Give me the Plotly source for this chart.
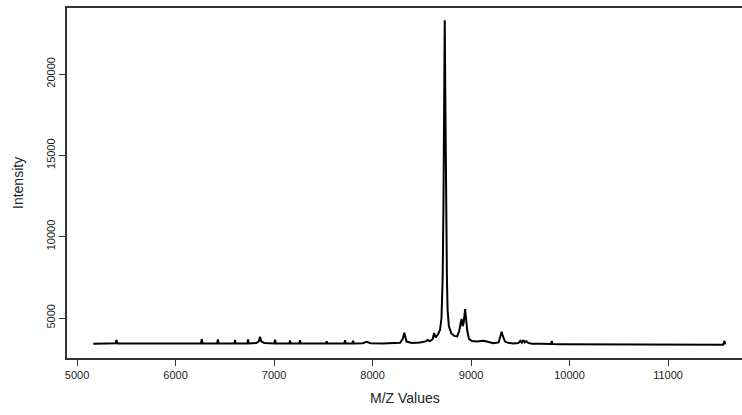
import plotly.graph_objects as go

mz = [5165, 5230, 5300, 5390, 5400, 5410, 5500, 5600, 5700, 5800, 5900, 6000, 6100, 6200,
      6258, 6266, 6274, 6350, 6423, 6430, 6437, 6520, 6597, 6604, 6611, 6680, 6729, 6736, 6743,
      6820, 6845, 6858, 6870, 6900, 6950, 7003, 7010, 7017, 7100, 7155, 7162, 7169, 7257, 7264,
      7271, 7350, 7450, 7528, 7535, 7542, 7620, 7714, 7721, 7728, 7795, 7802, 7809, 7900, 7941,
      7980, 8100, 8200, 8280, 8305, 8315, 8323, 8331, 8345, 8400, 8480, 8540, 8560, 8580, 8610,
      8625, 8640, 8665, 8685, 8700, 8712, 8720, 8727, 8733, 8739, 8745, 8750, 8755, 8762, 8775,
      8800, 8830, 8860, 8880, 8895, 8905, 8915, 8925, 8940, 8952, 8962, 8980, 9010, 9060, 9100,
      9122, 9160, 9225, 9280, 9300, 9311, 9322, 9345, 9376, 9430, 9480, 9500, 9515, 9530, 9545,
      9560, 9580, 9620, 9700, 9813, 9820, 9827, 9900, 10000, 10200, 10400, 10600, 10800, 11000,
      11200, 11400, 11560, 11573, 11580]
intensity = [3420, 3440, 3430, 3440, 3640, 3440, 3430, 3440, 3430, 3440, 3430, 3440, 3430, 3440,
             3440, 3690, 3440, 3430, 3440, 3690, 3440, 3440, 3440, 3650, 3440, 3440, 3440, 3680, 3440,
             3460, 3560, 3850, 3560, 3470, 3450, 3440, 3660, 3450, 3440, 3440, 3620, 3440, 3440, 3640,
             3440, 3430, 3440, 3440, 3560, 3440, 3430, 3440, 3640, 3440, 3440, 3600, 3440, 3450, 3540,
             3450, 3440, 3450, 3480, 3700, 3980, 4100, 3900, 3550, 3470, 3490, 3560, 3650, 3570, 3700,
             4080, 3800, 4000, 4260, 5000, 7500, 12000, 18000, 23300, 18500, 11000, 8000, 7500, 5500, 4500,
             4050, 3900, 3870, 4200, 4700, 4940, 4500, 4700, 5550, 4900, 4200, 3700, 3580, 3560, 3600,
             3600, 3550, 3450, 3500, 3850, 4160, 3900, 3550, 3480, 3440, 3460, 3600, 3480, 3650, 3500,
             3580, 3470, 3420, 3410, 3400, 3590, 3400, 3390, 3390, 3380, 3380, 3370, 3370, 3360,
             3360, 3360, 3360, 3590, 3380]

x_ticks = [5000, 6000, 7000, 8000, 9000, 10000, 11000]
y_ticks = [5000, 10000, 15000, 20000]

fig = go.Figure()
fig.add_trace(go.Scatter(x=mz, y=intensity, mode="lines",
                         line=dict(color="black", width=2), showlegend=False,
                         hoverinfo="skip"))

axis_color = "#333333"
tick_font = dict(family="Liberation Sans, Arial, sans-serif", size=11, color="#222222")

fig.update_layout(
    width=742, height=415,
    margin=dict(l=67, r=0, t=8, b=57),
    paper_bgcolor="white", plot_bgcolor="white",
    xaxis=dict(range=[4898, 11751], tickvals=x_ticks, ticktext=[str(v) for v in x_ticks],
               showline=True, linecolor=axis_color, linewidth=1.5, mirror=True,
               ticks="outside", ticklen=6, tickcolor=axis_color, tickwidth=1,
               showgrid=False, zeroline=False, tickfont=tick_font),
    yaxis=dict(range=[2541, 24057], tickvals=y_ticks, ticktext=[str(v) for v in y_ticks],
               showline=True, linecolor=axis_color, linewidth=1.5, mirror=False,
               ticks="outside", ticklen=6, tickcolor=axis_color, tickwidth=1,
               tickangle=-90, showgrid=False, zeroline=False, tickfont=tick_font),
    annotations=[
        dict(text="M/Z Values", xref="paper", yref="paper", x=0.5, y=0,
             yshift=-40, showarrow=False, yanchor="middle", xanchor="center",
             font=dict(family="Liberation Sans, Arial, sans-serif", size=14, color="#222222")),
        dict(text="Intensity", xref="paper", yref="paper", x=0, y=0.5,
             xshift=-49, showarrow=False, textangle=-90, xanchor="center", yanchor="middle",
             font=dict(family="Liberation Sans, Arial, sans-serif", size=14, color="#222222")),
    ],
)

fig.write_html("out.html")
